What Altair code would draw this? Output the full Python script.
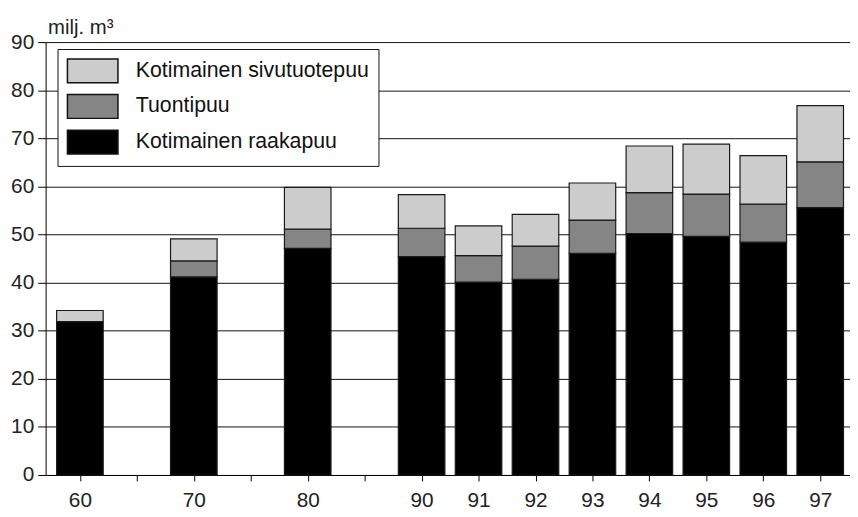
import json
import altair as alt
import pandas as pd

# ---- data ----
slots = list(range(14))
slot_labels = ["60", "", "70", "", "80", "", "90", "91", "92", "93", "94", "95", "96", "97"]
bar_slots = [0, 2, 4, 6, 7, 8, 9, 10, 11, 12, 13]
raakapuu = [31.9, 41.2, 47.1, 45.4, 40.1, 40.7, 46.1, 50.2, 49.6, 48.4, 55.6]
tuontipuu = [0.0, 3.3, 4.0, 5.9, 5.5, 6.9, 6.9, 8.5, 8.8, 7.9, 9.5]
sivutuotepuu = [2.3, 4.6, 8.7, 7.0, 6.2, 6.6, 7.7, 9.7, 10.4, 10.1, 11.7]
series_names = ["Kotimainen sivutuotepuu", "Tuontipuu", "Kotimainen raakapuu"]
series_colors = ["#cccccc", "#858585", "#000000"]
y_ticks = [0, 10, 20, 30, 40, 50, 60, 70, 80, 90]

rows = []
for i, s in enumerate(bar_slots):
    rows.append({"slot": s, "series": series_names[2], "value": raakapuu[i], "rank": 0})
    rows.append({"slot": s, "series": series_names[1], "value": tuontipuu[i], "rank": 1})
    rows.append({"slot": s, "series": series_names[0], "value": sivutuotepuu[i], "rank": 2})
df = pd.DataFrame(rows)
df = df[df["value"] > 0]

FONT = "Liberation Sans"
label_expr = json.dumps(slot_labels) + "[datum.value]"

chart = alt.Chart(df).mark_bar(width=47, stroke="#1a1a1a", strokeWidth=1.2).encode(
    x=alt.X("slot:Q",
            scale=alt.Scale(domain=[-0.515, 13.436], nice=False, zero=False),
            axis=alt.Axis(values=slots, labelExpr=label_expr, title=None, grid=False,
                          tickSize=6, tickColor="#000", domainColor="#000",
                          labelFontSize=21, labelFont=FONT, labelColor="#222",
                          labelPadding=9, labelFlush=False)),
    y=alt.Y("value:Q", stack="zero",
            scale=alt.Scale(domain=[0, 90], nice=False),
            axis=alt.Axis(values=y_ticks, title="milj. m³", titleAngle=0, titleAlign="left",
                          titleX=2, titleY=-9, titleBaseline="alphabetic",
                          titleFont=FONT, titleFontSize=20.5, titleFontWeight="normal",
                          titleColor="#222",
                          grid=True, gridColor="#111", gridWidth=1,
                          tickSize=8, tickColor="#000", domainColor="#000",
                          labelFontSize=21, labelFont=FONT, labelColor="#222",
                          labelPadding=4)),
    color=alt.Color("series:N",
                    scale=alt.Scale(domain=series_names, range=series_colors),
                    legend=alt.Legend(title=None, orient="none", legendX=12, legendY=7,
                                      symbolType="M-1,-1H3.25V1H-1Z", symbolSize=576,
                                      symbolStrokeColor="#111", symbolStrokeWidth=1.5,
                                      labelFont=FONT, labelFontSize=21.5, labelColor="#111",
                                      labelOffset=44, rowPadding=6, padding=9,
                                      strokeColor="#111", fillColor="#ffffff",
                                      labelLimit=400)),
    order=alt.Order("rank:Q"),
).properties(
    width=812, height=437,
    padding={"left": 38, "top": 32, "right": 0, "bottom": 40},
    autosize=alt.AutoSizeParams(type="none"),
).configure_view(stroke=None)

chart.save("out.html", embed_options={"renderer": "svg", "actions": False})
